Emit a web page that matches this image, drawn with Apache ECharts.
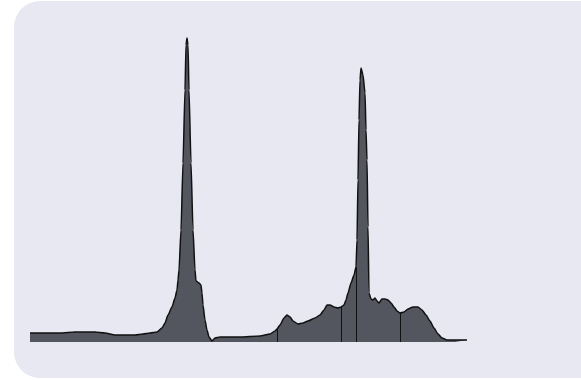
<!DOCTYPE html>
<html>
<head>
<meta charset="utf-8">
<script src="https://cdn.jsdelivr.net/npm/echarts@6/dist/echarts.min.js"></script>
<style>
  html, body { margin: 0; padding: 0; background: #ffffff; }
  #chart { width: 581px; height: 380px; }
</style>
</head>
<body>
<div id="chart"></div>
<script>
// Chromatogram trace: retention position and detector signal
const times = [
  0, 15, 30, 45, 65, 75, 85, 105, 113, 120, 127, 132, 135, 138, 142, 145, 147, 148, 149,
  151, 153, 155, 156, 157, 158, 159, 161, 163, 165, 166, 169, 171, 172, 173, 175, 177, 179,
  182, 185, 190, 210, 230, 240, 245, 247, 250, 254, 257, 260, 263, 268, 273, 278, 285, 290,
  294, 297, 300, 304, 308, 311, 314, 316, 318, 321, 324, 326, 327, 328, 329, 330, 331, 333,
  335, 336, 337, 338, 339, 341, 343, 345, 347, 349, 352, 355, 358, 361, 364, 367, 370, 374,
  378, 383, 388, 392, 396, 400, 404, 408, 412, 417, 425, 437
];
const signal = [
  9, 9, 9, 10, 10, 9, 7, 7, 8, 9, 10, 14, 19, 27, 35, 44, 52, 62, 72,
  112, 179, 252, 297, 304, 297, 252, 179, 112, 72, 61, 59, 57, 49, 37, 22, 12, 5,
  1, 4, 5, 5, 6, 8, 11, 13, 17, 24, 27, 25, 21, 18, 19, 21, 24, 27,
  32, 37, 37, 35, 34, 35, 37, 42, 49, 59, 67, 75, 102, 162, 222, 262, 274, 267,
  249, 212, 182, 115, 49, 43, 42, 44, 41, 39, 43, 43, 42, 39, 35, 31, 29, 30,
  33, 35, 35, 32, 27, 21, 14, 8, 4, 2, 2, 2
];
// Integration cut positions (drop lines from baseline to the trace)
const cuts = [247, 311, 326, 370];

const points = times.map((t, i) => [t, signal[i]]);
const signalAt = t => signal[times.indexOf(t)];

const chart = echarts.init(document.getElementById('chart'), null, { renderer: 'canvas' });
chart.setOption({
  animation: false,
  backgroundColor: '#ffffff',
  graphic: [{
    type: 'rect',
    left: 14,
    top: 1,
    z: -100,
    silent: true,
    shape: { width: 620, height: 377, r: 26 },
    style: { fill: '#e8e8f3' }
  }],
  grid: { left: 30, top: 22, width: 437, height: 320, containLabel: false },
  xAxis: { type: 'value', min: 0, max: 437, show: false },
  yAxis: { type: 'value', min: 0, max: 320, show: false },
  series: [{
    type: 'line',
    data: points,
    showSymbol: false,
    smooth: 0.2,
    smoothMonotone: 'x',
    lineStyle: { color: '#111111', width: 1.5 },
    areaStyle: { color: '#53565e', opacity: 1 },
    markLine: {
      silent: true,
      symbol: ['none', 'none'],
      label: { show: false },
      lineStyle: { color: '#111111', width: 1, type: 'solid' },
      data: cuts.map(t => [{ coord: [t, 0] }, { coord: [t, signalAt(t)] }])
    }
  }]
});
</script>
</body>
</html>
